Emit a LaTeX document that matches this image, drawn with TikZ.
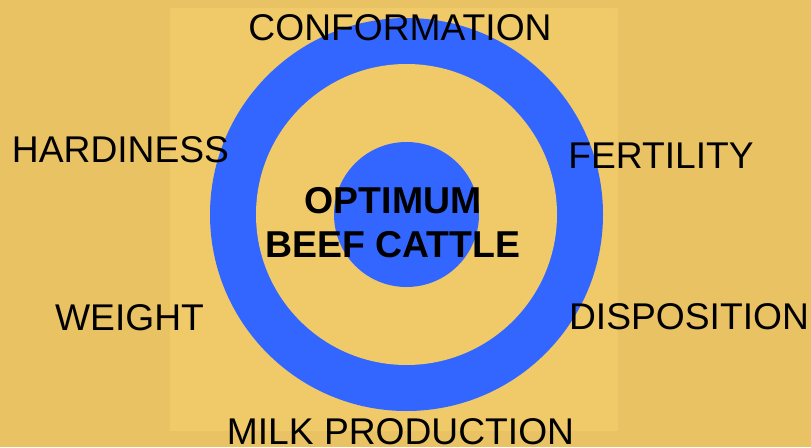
\documentclass[tikz,border=0pt]{standalone}
\usepackage{fontspec}
\setmainfont{Liberation Sans}
\definecolor{bgout}{HTML}{E9C263}
\definecolor{bgin}{HTML}{F0C969}
\definecolor{ringblue}{HTML}{3366FF}
\begin{document}
\begin{tikzpicture}[x=1pt,y=-1pt,
  lbl/.style={inner sep=0pt,anchor=base,font=\fontsize{37.2}{40}\selectfont},
  ctr/.style={inner sep=0pt,anchor=base,font=\fontsize{37.4}{40}\selectfont\bfseries}]
\useasboundingbox (0,0) rectangle (811,447);
\fill[bgout] (0,0) rectangle (811,447);
\fill[bgin] (170,8) rectangle (618,431);
\coordinate (c) at (406.5,214.5);
\fill[ringblue] (c) circle[radius=196.5];
\fill[bgin] (c) circle[radius=150.5];
\fill[ringblue] (c) circle[radius=72.5];
\node[ctr] (opt) at (393,213) {OPTIMUM};
\node[ctr] (beef) at (393,257) {BEEF CATTLE};
\node[lbl] (conf) at (400,40) {CONFORMATION};
\node[lbl] (milk) at (400.5,444) {MILK PRODUCTION};
\node[lbl] (hard) at (120.5,162) {HARDINESS};
\node[lbl] (fert) at (661,168) {FERTILITY};
\node[lbl] (wgt) at (129.5,330) {WEIGHT};
\node[lbl] (disp) at (689,329) {DISPOSITION};
\end{tikzpicture}
\end{document}
